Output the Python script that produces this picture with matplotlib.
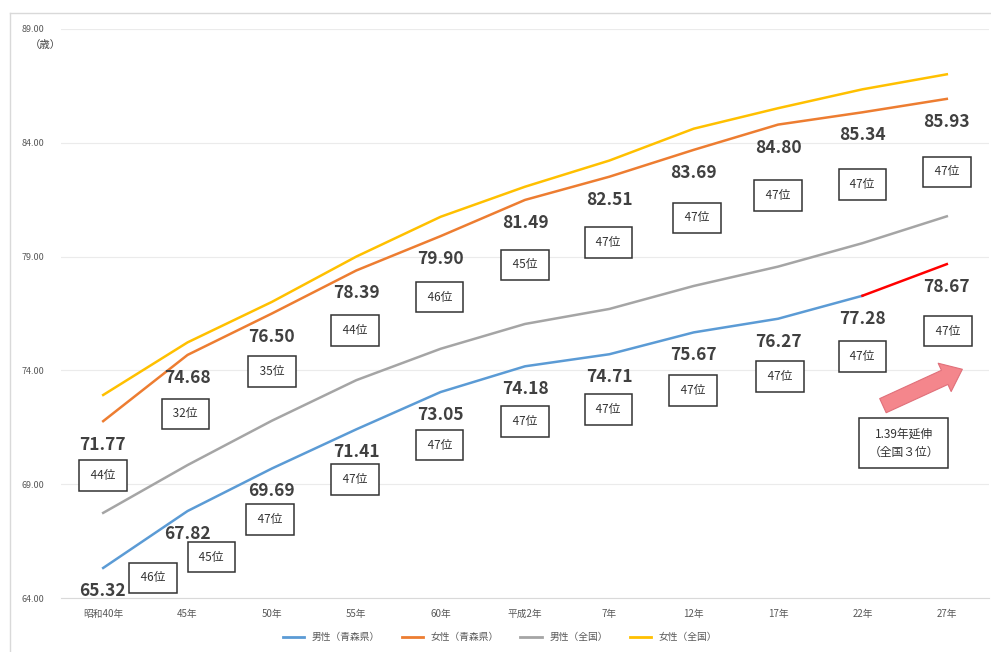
import matplotlib.pyplot as plt
from matplotlib.patches import FancyArrowPatch
from matplotlib.lines import Line2D
import numpy as np

plt.rcParams['font.family'] = ['Noto Sans CJK JP', 'DejaVu Sans']

# データ
years = ['昭和40年', '45年', '50年', '55年', '60年', '平成2年', '7年', '12年', '17年', '22年', '27年']
male_aomori = [65.32, 67.82, 69.69, 71.41, 73.05, 74.18, 74.71, 75.67, 76.27, 77.28, 78.67]
female_aomori = [71.77, 74.68, 76.50, 78.39, 79.90, 81.49, 82.51, 83.69, 84.80, 85.34, 85.93]
male_japan = [67.74, 69.84, 71.79, 73.57, 74.95, 76.04, 76.70, 77.71, 78.56, 79.59, 80.77]
female_japan = [72.92, 75.23, 77.01, 79.00, 80.75, 82.07, 83.22, 84.62, 85.52, 86.35, 87.01]
rank_male = [46, 45, 47, 47, 47, 47, 47, 47, 47, 47, 47]
rank_female = [44, 32, 35, 44, 46, 45, 47, 47, 47, 47, 47]

# 順位ボックスの位置 (pixel offset)
box_off_male = [(50, -10), (24, -46), (-2, -51), (-1, -50), (-1, -53), (0, -55),
                (-1, -55), (-1, -58), (2, -58), (0, -61), (1, -67)]
box_off_female = [(0, -54), (-2, -59), (0, -58), (-1, -60), (-1, -61), (0, -65),
                  (-1, -66), (3, -68), (0, -71), (0, -72), (0, -73)]
text_off_male = [(-1, -23)] + [(0, -23)] * 10
text_off_female = [(-1, -24)] + [(0, -23)] * 10

c_blue = '#5B9BD5'
c_orange = '#ED7D31'
c_gray = '#A5A5A5'
c_yellow = '#FFC000'

fig = plt.figure(figsize=(9.91, 6.52), dpi=100)
ax = fig.add_axes([61 / 991, 54 / 652, 928 / 991, 569 / 652])

x = np.arange(len(years))
lw = 1.8
ax.plot(x, female_japan, color=c_yellow, lw=lw)
ax.plot(x, female_aomori, color=c_orange, lw=lw)
ax.plot(x, male_japan, color=c_gray, lw=lw)
ax.plot(x[:-1], male_aomori[:-1], color=c_blue, lw=lw)
ax.plot(x[-2:], male_aomori[-2:], color='#FF0000', lw=lw)

ax.set_xlim(-0.5, len(years) - 0.5)
ax.set_ylim(64, 89)
ax.set_yticks(np.arange(64, 89.1, 5))
ax.set_yticklabels([f'{v:.2f}' for v in np.arange(64, 89.1, 5)], fontsize=6.5, color='#595959')
ax.set_xticks(x)
ax.set_xticklabels(years, fontsize=7, color='#595959')
ax.tick_params(length=0, pad=8)
ax.tick_params(axis='y', pad=12)
ax.grid(axis='y', color='#EBEBEB', lw=0.8)
ax.set_axisbelow(True)
for s in ['top', 'right', 'left']:
    ax.spines[s].set_visible(False)
ax.spines['bottom'].set_color('#D9D9D9')

def label(vals, ranks, toffs, boffs):
    for i, (v, r) in enumerate(zip(vals, ranks)):
        ax.annotate(f'{v:.2f}', (i, v), xytext=toffs[i], textcoords='offset pixels',
                    ha='center', va='center', fontsize=12.5, fontweight='bold', color='#404040')
        ax.annotate(f' {r}位 ', (i, v), xytext=boffs[i], textcoords='offset pixels',
                    ha='center', va='center', fontsize=8.5, color='#333333',
                    bbox=dict(boxstyle='square,pad=0.75', fc='white', ec='#333333', lw=1.1))

label(male_aomori, rank_male, text_off_male, box_off_male)
label(female_aomori, rank_female, text_off_female, box_off_female)

# 矢印と注釈
arrow = FancyArrowPatch((0.883, 0.336), (0.974, 0.404), transform=ax.transAxes,
                        arrowstyle='simple,head_width=1.6,head_length=1.0,tail_width=0.8',
                        mutation_scale=14, fc='#F4868C', ec='#E0707A', lw=0.8)
ax.add_patch(arrow)
ax.text(0.908, 0.272, '1.39年延伸\n（全国３位）', transform=ax.transAxes, ha='center', va='center',
        fontsize=8.5, color='#333333', linespacing=1.5,
        bbox=dict(boxstyle='square,pad=0.8', fc='white', ec='#333333', lw=1.1))

fig.text(45 / 991, 1 - 45 / 652, '（歳）', ha='center', va='center', fontsize=7.5, color='#404040')

# 外枠
fig.add_artist(Line2D([10 / 991, 1], [1 - 13 / 652] * 2, color='#D9D9D9', lw=1))
fig.add_artist(Line2D([10 / 991] * 2, [0, 1 - 13 / 652], color='#D9D9D9', lw=1))

handles = [Line2D([], [], color=c, lw=2) for c in [c_blue, c_orange, c_gray, c_yellow]]
names = ['男性（青森県）', '女性（青森県）', '男性（全国）', '女性（全国）']
fig.legend(handles, names, loc='center', bbox_to_anchor=(500 / 991, 1 - 637 / 652), ncol=4,
           frameon=False, fontsize=7, handlelength=2.2, columnspacing=2.2, labelcolor='#595959')

fig.savefig('out.png', dpi=100)
